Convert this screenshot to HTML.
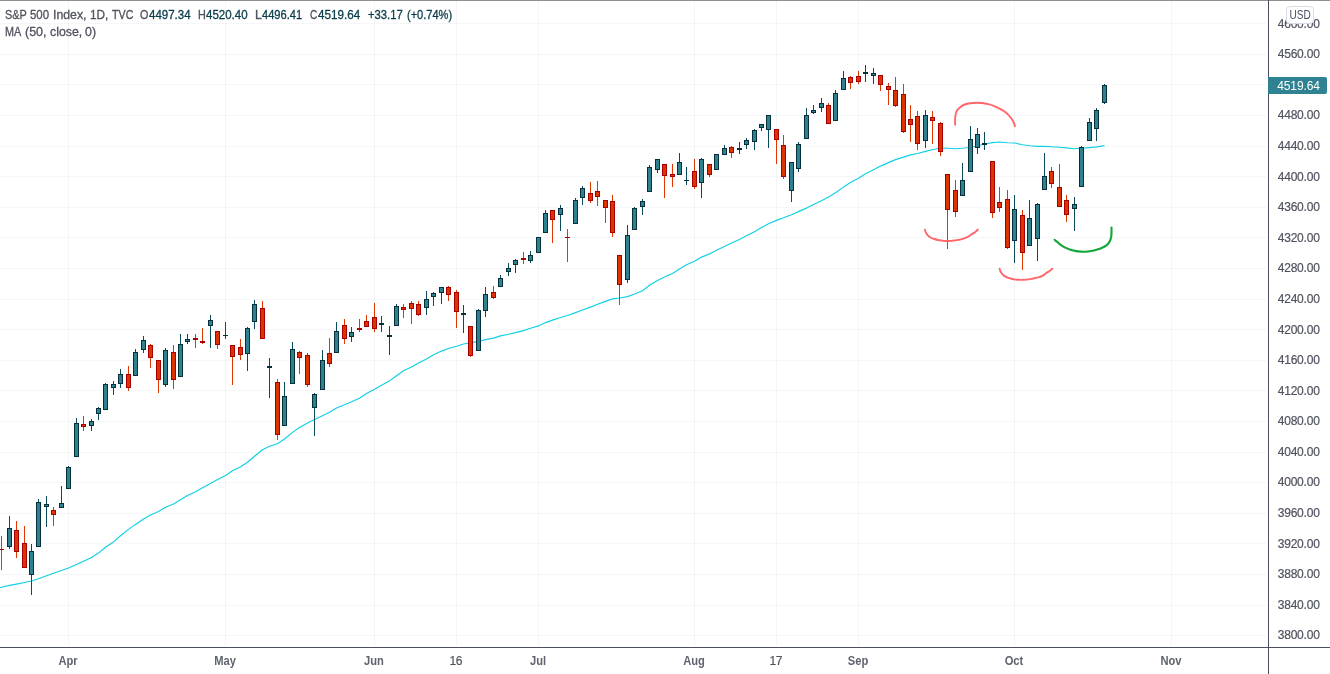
<!DOCTYPE html>
<html><head><meta charset="utf-8"><title>S&amp;P 500 Index, 1D, TVC</title>
<style>
html,body{margin:0;padding:0;background:#fff;}
body{width:1330px;height:674px;overflow:hidden;position:relative;font-family:"Liberation Sans",sans-serif;font-size:12px;color:#50535e;}
#chart{position:absolute;left:0;top:0;}
.pl{position:absolute;left:1269px;width:50.7px;text-align:right;height:17px;line-height:17px;font-size:12px;letter-spacing:-0.2px;white-space:nowrap;-webkit-text-stroke:0.2px currentColor;}
.tl{position:absolute;top:652px;width:60px;text-align:center;height:18px;line-height:18px;font-size:12px;white-space:nowrap;letter-spacing:-0.3px;-webkit-text-stroke:0.2px currentColor;margin-left:-0.7px;}
.tl.b{font-weight:bold;-webkit-text-stroke:0;letter-spacing:0;margin-left:-0.3px;transform:scaleX(0.93);color:#60636f;}
.lg{position:absolute;white-space:nowrap;height:16px;line-height:16px;font-size:12px;transform-origin:0 50%;display:block;-webkit-text-stroke:0.3px currentColor;}
.v{color:#083d4b;}
#usd{position:absolute;left:1286px;top:6px;width:26px;height:16px;border:1px solid #d9dce8;border-radius:4px;background:#fff;text-align:center;line-height:16px;font-size:12px;color:#4a4e61;}
#usd span{display:inline-block;transform:translateX(0.4px) scaleX(0.84);transform-origin:50% 50%;}
#last{position:absolute;left:1268px;top:77px;width:59px;height:17px;background:#2f8292;border-radius:0 2px 2px 0;color:#fff;line-height:19px;overflow:hidden;font-size:12px;text-align:right;box-sizing:border-box;padding-right:7.2px;letter-spacing:-0.12px;}
</style></head><body>
<svg id="chart" width="1330" height="674" viewBox="0 0 1330 674">
<rect x="0" y="0" width="1330" height="674" fill="#ffffff"/>
<g shape-rendering="crispEdges">
<rect x="0" y="635" width="1267" height="1" fill="rgba(50,70,120,0.05)"/><rect x="0" y="605" width="1267" height="1" fill="rgba(50,70,120,0.05)"/><rect x="0" y="574" width="1267" height="1" fill="rgba(50,70,120,0.05)"/><rect x="0" y="543" width="1267" height="1" fill="rgba(50,70,120,0.05)"/><rect x="0" y="513" width="1267" height="1" fill="rgba(50,70,120,0.05)"/><rect x="0" y="482" width="1267" height="1" fill="rgba(50,70,120,0.05)"/><rect x="0" y="452" width="1267" height="1" fill="rgba(50,70,120,0.05)"/><rect x="0" y="421" width="1267" height="1" fill="rgba(50,70,120,0.05)"/><rect x="0" y="390" width="1267" height="1" fill="rgba(50,70,120,0.05)"/><rect x="0" y="360" width="1267" height="1" fill="rgba(50,70,120,0.05)"/><rect x="0" y="329" width="1267" height="1" fill="rgba(50,70,120,0.05)"/><rect x="0" y="299" width="1267" height="1" fill="rgba(50,70,120,0.05)"/><rect x="0" y="268" width="1267" height="1" fill="rgba(50,70,120,0.05)"/><rect x="0" y="237" width="1267" height="1" fill="rgba(50,70,120,0.05)"/><rect x="0" y="207" width="1267" height="1" fill="rgba(50,70,120,0.05)"/><rect x="0" y="176" width="1267" height="1" fill="rgba(50,70,120,0.05)"/><rect x="0" y="146" width="1267" height="1" fill="rgba(50,70,120,0.05)"/><rect x="0" y="115" width="1267" height="1" fill="rgba(50,70,120,0.05)"/><rect x="0" y="84" width="1267" height="1" fill="rgba(50,70,120,0.05)"/><rect x="0" y="54" width="1267" height="1" fill="rgba(50,70,120,0.05)"/><rect x="0" y="23" width="1267" height="1" fill="rgba(50,70,120,0.05)"/><rect x="68" y="1" width="1" height="645" fill="rgba(50,70,120,0.05)"/><rect x="225" y="1" width="1" height="645" fill="rgba(50,70,120,0.05)"/><rect x="374" y="1" width="1" height="645" fill="rgba(50,70,120,0.05)"/><rect x="456" y="1" width="1" height="645" fill="rgba(50,70,120,0.05)"/><rect x="538" y="1" width="1" height="645" fill="rgba(50,70,120,0.05)"/><rect x="694" y="1" width="1" height="645" fill="rgba(50,70,120,0.05)"/><rect x="776" y="1" width="1" height="645" fill="rgba(50,70,120,0.05)"/><rect x="858" y="1" width="1" height="645" fill="rgba(50,70,120,0.05)"/><rect x="1014" y="1" width="1" height="645" fill="rgba(50,70,120,0.05)"/><rect x="1171" y="1" width="1" height="645" fill="rgba(50,70,120,0.05)"/>
</g>
<path d="M-6.0,589.2L1.5,587.3L9.5,585.4L16.5,584.1L24.5,582.5L31.5,581.0L38.5,578.7L46.5,575.7L53.5,573.2L61.5,570.5L68.5,568.0L76.5,564.5L83.5,561.2L91.5,557.5L98.5,553.1L105.5,547.2L113.5,541.9L120.5,535.7L128.5,529.4L135.5,524.4L143.5,519.0L150.5,515.0L158.5,511.5L165.5,507.3L173.5,504.0L180.5,499.7L187.5,495.5L195.5,491.7L202.5,487.8L210.5,483.4L217.5,479.5L225.5,475.5L232.5,470.8L240.5,466.7L247.5,462.3L254.5,456.2L262.5,449.8L269.5,446.3L277.5,443.7L284.5,439.0L292.5,432.4L299.5,427.5L307.5,423.0L314.5,419.5L322.5,415.7L329.5,412.2L336.5,408.0L344.5,404.8L351.5,401.8L359.5,398.2L366.5,393.5L374.5,389.3L381.5,385.2L389.5,380.9L396.5,375.7L403.5,370.8L411.5,366.9L418.5,363.1L426.5,358.9L433.5,354.7L441.5,351.1L448.5,348.5L456.5,346.2L463.5,344.0L470.5,342.9L478.5,341.4L485.5,339.6L493.5,338.1L500.5,335.9L508.5,334.2L515.5,332.6L523.5,330.6L530.5,328.2L538.5,325.9L545.5,322.6L552.5,320.1L560.5,317.5L567.5,315.5L575.5,312.6L582.5,310.0L590.5,307.1L597.5,304.3L605.5,301.4L612.5,298.9L619.5,298.0L627.5,296.6L634.5,294.0L642.5,290.7L649.5,285.3L657.5,280.6L664.5,277.0L672.5,273.4L679.5,269.0L686.5,264.7L694.5,261.2L701.5,257.1L709.5,253.9L716.5,250.2L724.5,246.6L731.5,243.0L739.5,239.4L746.5,235.7L754.5,231.8L761.5,227.6L768.5,223.8L776.5,220.4L783.5,217.7L791.5,214.7L798.5,211.6L806.5,208.1L813.5,204.6L821.5,200.8L828.5,197.0L835.5,192.7L843.5,187.1L850.5,182.6L858.5,178.3L865.5,173.8L873.5,169.7L880.5,166.1L888.5,162.6L895.5,159.6L903.5,157.1L910.5,154.9L917.5,153.5L925.5,151.4L932.5,149.7L940.5,148.0L947.5,148.2L955.5,148.7L962.5,148.3L970.5,147.2L977.5,145.8L984.5,144.0L992.5,142.6L999.5,142.0L1007.5,142.8L1014.5,143.0L1022.5,144.7L1029.5,145.8L1037.5,146.4L1044.5,146.4L1051.5,146.8L1059.5,147.3L1066.5,147.9L1074.5,148.8L1081.5,148.3L1089.5,147.6L1096.5,146.9L1104.5,145.6" fill="none" stroke="#0fd0e4" stroke-width="1.15" stroke-linejoin="round" stroke-linecap="butt"/>
<g shape-rendering="crispEdges">
<rect x="1" y="536" width="1" height="34" fill="#e03600"/><rect x="-1" y="549" width="5" height="1" fill="#a60000"/><rect x="9" y="516" width="1" height="33" fill="#0b4a5b"/><rect x="7" y="528" width="5" height="19" fill="#062f3c"/><rect x="8" y="529" width="3" height="17" fill="#30818f"/><rect x="16" y="521" width="1" height="37" fill="#e03600"/><rect x="14" y="530" width="5" height="22" fill="#a60000"/><rect x="15" y="531" width="3" height="20" fill="#dd3300"/><rect x="24" y="526" width="1" height="42" fill="#e03600"/><rect x="22" y="543" width="5" height="25" fill="#a60000"/><rect x="23" y="544" width="3" height="23" fill="#dd3300"/><rect x="31" y="544" width="1" height="51" fill="#0b4a5b"/><rect x="29" y="551" width="5" height="24" fill="#062f3c"/><rect x="30" y="552" width="3" height="22" fill="#30818f"/><rect x="38" y="499" width="1" height="48" fill="#0b4a5b"/><rect x="36" y="502" width="5" height="45" fill="#062f3c"/><rect x="37" y="503" width="3" height="43" fill="#30818f"/><rect x="46" y="496" width="1" height="31" fill="#0b4a5b"/><rect x="44" y="504" width="5" height="3" fill="#062f3c"/><rect x="45" y="505" width="3" height="1" fill="#30818f"/><rect x="53" y="507" width="1" height="19" fill="#e03600"/><rect x="51" y="510" width="5" height="5" fill="#a60000"/><rect x="52" y="511" width="3" height="3" fill="#dd3300"/><rect x="61" y="486" width="1" height="22" fill="#0b4a5b"/><rect x="59" y="503" width="5" height="5" fill="#062f3c"/><rect x="60" y="504" width="3" height="3" fill="#30818f"/><rect x="68" y="466" width="1" height="23" fill="#0b4a5b"/><rect x="66" y="467" width="5" height="22" fill="#062f3c"/><rect x="67" y="468" width="3" height="20" fill="#30818f"/><rect x="76" y="418" width="1" height="39" fill="#0b4a5b"/><rect x="74" y="423" width="5" height="34" fill="#062f3c"/><rect x="75" y="424" width="3" height="32" fill="#30818f"/><rect x="83" y="416" width="1" height="15" fill="#e03600"/><rect x="81" y="424" width="5" height="3" fill="#a60000"/><rect x="82" y="425" width="3" height="1" fill="#dd3300"/><rect x="91" y="419" width="1" height="12" fill="#0b4a5b"/><rect x="89" y="421" width="5" height="5" fill="#062f3c"/><rect x="90" y="422" width="3" height="3" fill="#30818f"/><rect x="98" y="407" width="1" height="13" fill="#0b4a5b"/><rect x="96" y="408" width="5" height="6" fill="#062f3c"/><rect x="97" y="409" width="3" height="4" fill="#30818f"/><rect x="105" y="383" width="1" height="27" fill="#0b4a5b"/><rect x="103" y="384" width="5" height="26" fill="#062f3c"/><rect x="104" y="385" width="3" height="24" fill="#30818f"/><rect x="113" y="381" width="1" height="14" fill="#0b4a5b"/><rect x="111" y="384" width="5" height="4" fill="#062f3c"/><rect x="112" y="385" width="3" height="2" fill="#30818f"/><rect x="120" y="369" width="1" height="19" fill="#0b4a5b"/><rect x="118" y="374" width="5" height="10" fill="#062f3c"/><rect x="119" y="375" width="3" height="8" fill="#30818f"/><rect x="128" y="366" width="1" height="25" fill="#e03600"/><rect x="126" y="374" width="5" height="14" fill="#a60000"/><rect x="127" y="375" width="3" height="12" fill="#dd3300"/><rect x="135" y="349" width="1" height="27" fill="#0b4a5b"/><rect x="133" y="352" width="5" height="24" fill="#062f3c"/><rect x="134" y="353" width="3" height="22" fill="#30818f"/><rect x="143" y="336" width="1" height="17" fill="#0b4a5b"/><rect x="141" y="340" width="5" height="10" fill="#062f3c"/><rect x="142" y="341" width="3" height="8" fill="#30818f"/><rect x="150" y="344" width="1" height="24" fill="#e03600"/><rect x="148" y="345" width="5" height="13" fill="#a60000"/><rect x="149" y="346" width="3" height="11" fill="#dd3300"/><rect x="158" y="360" width="1" height="33" fill="#e03600"/><rect x="156" y="360" width="5" height="20" fill="#a60000"/><rect x="157" y="361" width="3" height="18" fill="#dd3300"/><rect x="165" y="348" width="1" height="39" fill="#0b4a5b"/><rect x="163" y="350" width="5" height="35" fill="#062f3c"/><rect x="164" y="351" width="3" height="33" fill="#30818f"/><rect x="173" y="345" width="1" height="44" fill="#e03600"/><rect x="171" y="352" width="5" height="28" fill="#a60000"/><rect x="172" y="353" width="3" height="26" fill="#dd3300"/><rect x="180" y="334" width="1" height="43" fill="#0b4a5b"/><rect x="178" y="344" width="5" height="33" fill="#062f3c"/><rect x="179" y="345" width="3" height="31" fill="#30818f"/><rect x="187" y="334" width="1" height="10" fill="#0b4a5b"/><rect x="185" y="339" width="5" height="3" fill="#062f3c"/><rect x="186" y="340" width="3" height="1" fill="#30818f"/><rect x="195" y="334" width="1" height="14" fill="#e03600"/><rect x="193" y="338" width="5" height="2" fill="#a60000"/><rect x="202" y="328" width="1" height="16" fill="#e03600"/><rect x="200" y="341" width="5" height="2" fill="#a60000"/><rect x="210" y="315" width="1" height="33" fill="#0b4a5b"/><rect x="208" y="320" width="5" height="6" fill="#062f3c"/><rect x="209" y="321" width="3" height="4" fill="#30818f"/><rect x="217" y="331" width="1" height="18" fill="#e03600"/><rect x="215" y="331" width="5" height="14" fill="#a60000"/><rect x="216" y="332" width="3" height="12" fill="#dd3300"/><rect x="225" y="322" width="1" height="17" fill="#0b4a5b"/><rect x="223" y="335" width="5" height="1" fill="#062f3c"/><rect x="232" y="345" width="1" height="40" fill="#e03600"/><rect x="230" y="345" width="5" height="12" fill="#a60000"/><rect x="231" y="346" width="3" height="10" fill="#dd3300"/><rect x="240" y="339" width="1" height="21" fill="#e03600"/><rect x="238" y="347" width="5" height="8" fill="#a60000"/><rect x="239" y="348" width="3" height="6" fill="#dd3300"/><rect x="247" y="327" width="1" height="44" fill="#0b4a5b"/><rect x="245" y="328" width="5" height="26" fill="#062f3c"/><rect x="246" y="329" width="3" height="24" fill="#30818f"/><rect x="254" y="300" width="1" height="29" fill="#0b4a5b"/><rect x="252" y="304" width="5" height="18" fill="#062f3c"/><rect x="253" y="305" width="3" height="16" fill="#30818f"/><rect x="262" y="301" width="1" height="38" fill="#e03600"/><rect x="260" y="308" width="5" height="31" fill="#a60000"/><rect x="261" y="309" width="3" height="29" fill="#dd3300"/><rect x="269" y="358" width="1" height="40" fill="#0b4a5b"/><rect x="267" y="366" width="5" height="2" fill="#062f3c"/><rect x="277" y="379" width="1" height="61" fill="#e03600"/><rect x="275" y="382" width="5" height="53" fill="#a60000"/><rect x="276" y="383" width="3" height="51" fill="#dd3300"/><rect x="284" y="382" width="1" height="44" fill="#0b4a5b"/><rect x="282" y="396" width="5" height="30" fill="#062f3c"/><rect x="283" y="397" width="3" height="28" fill="#30818f"/><rect x="292" y="342" width="1" height="42" fill="#0b4a5b"/><rect x="290" y="349" width="5" height="35" fill="#062f3c"/><rect x="291" y="350" width="3" height="33" fill="#30818f"/><rect x="299" y="351" width="1" height="23" fill="#e03600"/><rect x="297" y="352" width="5" height="6" fill="#a60000"/><rect x="298" y="353" width="3" height="4" fill="#dd3300"/><rect x="307" y="353" width="1" height="34" fill="#e03600"/><rect x="305" y="355" width="5" height="30" fill="#a60000"/><rect x="306" y="356" width="3" height="28" fill="#dd3300"/><rect x="314" y="393" width="1" height="43" fill="#0b4a5b"/><rect x="312" y="394" width="5" height="14" fill="#062f3c"/><rect x="313" y="395" width="3" height="12" fill="#30818f"/><rect x="322" y="350" width="1" height="40" fill="#0b4a5b"/><rect x="320" y="360" width="5" height="30" fill="#062f3c"/><rect x="321" y="361" width="3" height="28" fill="#30818f"/><rect x="329" y="338" width="1" height="29" fill="#e03600"/><rect x="327" y="353" width="5" height="11" fill="#a60000"/><rect x="328" y="354" width="3" height="9" fill="#dd3300"/><rect x="336" y="322" width="1" height="31" fill="#0b4a5b"/><rect x="334" y="331" width="5" height="22" fill="#062f3c"/><rect x="335" y="332" width="3" height="20" fill="#30818f"/><rect x="344" y="319" width="1" height="25" fill="#e03600"/><rect x="342" y="325" width="5" height="14" fill="#a60000"/><rect x="343" y="326" width="3" height="12" fill="#dd3300"/><rect x="351" y="327" width="1" height="15" fill="#0b4a5b"/><rect x="349" y="332" width="5" height="5" fill="#062f3c"/><rect x="350" y="333" width="3" height="3" fill="#30818f"/><rect x="359" y="319" width="1" height="13" fill="#e03600"/><rect x="357" y="328" width="5" height="2" fill="#a60000"/><rect x="366" y="315" width="1" height="12" fill="#e03600"/><rect x="364" y="321" width="5" height="6" fill="#a60000"/><rect x="365" y="322" width="3" height="4" fill="#dd3300"/><rect x="374" y="303" width="1" height="29" fill="#e03600"/><rect x="372" y="317" width="5" height="12" fill="#a60000"/><rect x="373" y="318" width="3" height="10" fill="#dd3300"/><rect x="381" y="316" width="1" height="16" fill="#0b4a5b"/><rect x="379" y="323" width="5" height="2" fill="#062f3c"/><rect x="389" y="326" width="1" height="29" fill="#0b4a5b"/><rect x="387" y="335" width="5" height="2" fill="#062f3c"/><rect x="396" y="304" width="1" height="22" fill="#0b4a5b"/><rect x="394" y="306" width="5" height="20" fill="#062f3c"/><rect x="395" y="307" width="3" height="18" fill="#30818f"/><rect x="403" y="304" width="1" height="14" fill="#e03600"/><rect x="401" y="307" width="5" height="3" fill="#a60000"/><rect x="402" y="308" width="3" height="1" fill="#dd3300"/><rect x="411" y="301" width="1" height="23" fill="#e03600"/><rect x="409" y="303" width="5" height="6" fill="#a60000"/><rect x="410" y="304" width="3" height="4" fill="#dd3300"/><rect x="418" y="301" width="1" height="15" fill="#e03600"/><rect x="416" y="304" width="5" height="11" fill="#a60000"/><rect x="417" y="305" width="3" height="9" fill="#dd3300"/><rect x="426" y="291" width="1" height="24" fill="#0b4a5b"/><rect x="424" y="299" width="5" height="9" fill="#062f3c"/><rect x="425" y="300" width="3" height="7" fill="#30818f"/><rect x="433" y="292" width="1" height="14" fill="#0b4a5b"/><rect x="431" y="293" width="5" height="4" fill="#062f3c"/><rect x="432" y="294" width="3" height="2" fill="#30818f"/><rect x="441" y="287" width="1" height="17" fill="#0b4a5b"/><rect x="439" y="287" width="5" height="6" fill="#062f3c"/><rect x="440" y="288" width="3" height="4" fill="#30818f"/><rect x="448" y="286" width="1" height="15" fill="#e03600"/><rect x="446" y="287" width="5" height="8" fill="#a60000"/><rect x="447" y="288" width="3" height="6" fill="#dd3300"/><rect x="456" y="290" width="1" height="38" fill="#e03600"/><rect x="454" y="292" width="5" height="20" fill="#a60000"/><rect x="455" y="293" width="3" height="18" fill="#dd3300"/><rect x="463" y="305" width="1" height="28" fill="#0b4a5b"/><rect x="461" y="313" width="5" height="2" fill="#062f3c"/><rect x="470" y="326" width="1" height="31" fill="#e03600"/><rect x="468" y="326" width="5" height="30" fill="#a60000"/><rect x="469" y="327" width="3" height="28" fill="#dd3300"/><rect x="478" y="309" width="1" height="42" fill="#0b4a5b"/><rect x="476" y="310" width="5" height="41" fill="#062f3c"/><rect x="477" y="311" width="3" height="39" fill="#30818f"/><rect x="485" y="287" width="1" height="30" fill="#0b4a5b"/><rect x="483" y="294" width="5" height="17" fill="#062f3c"/><rect x="484" y="295" width="3" height="15" fill="#30818f"/><rect x="493" y="286" width="1" height="13" fill="#e03600"/><rect x="491" y="292" width="5" height="6" fill="#a60000"/><rect x="492" y="293" width="3" height="4" fill="#dd3300"/><rect x="500" y="275" width="1" height="12" fill="#0b4a5b"/><rect x="498" y="278" width="5" height="9" fill="#062f3c"/><rect x="499" y="279" width="3" height="7" fill="#30818f"/><rect x="508" y="263" width="1" height="13" fill="#0b4a5b"/><rect x="506" y="268" width="5" height="4" fill="#062f3c"/><rect x="507" y="269" width="3" height="2" fill="#30818f"/><rect x="515" y="259" width="1" height="14" fill="#0b4a5b"/><rect x="513" y="260" width="5" height="5" fill="#062f3c"/><rect x="514" y="261" width="3" height="3" fill="#30818f"/><rect x="523" y="252" width="1" height="12" fill="#e03600"/><rect x="521" y="258" width="5" height="2" fill="#a60000"/><rect x="530" y="251" width="1" height="12" fill="#0b4a5b"/><rect x="528" y="255" width="5" height="6" fill="#062f3c"/><rect x="529" y="256" width="3" height="4" fill="#30818f"/><rect x="538" y="237" width="1" height="16" fill="#0b4a5b"/><rect x="536" y="237" width="5" height="16" fill="#062f3c"/><rect x="537" y="238" width="3" height="14" fill="#30818f"/><rect x="545" y="210" width="1" height="23" fill="#0b4a5b"/><rect x="543" y="213" width="5" height="20" fill="#062f3c"/><rect x="544" y="214" width="3" height="18" fill="#30818f"/><rect x="552" y="210" width="1" height="33" fill="#e03600"/><rect x="550" y="210" width="5" height="10" fill="#a60000"/><rect x="551" y="211" width="3" height="8" fill="#dd3300"/><rect x="560" y="205" width="1" height="26" fill="#0b4a5b"/><rect x="558" y="208" width="5" height="7" fill="#062f3c"/><rect x="559" y="209" width="3" height="5" fill="#30818f"/><rect x="567" y="229" width="1" height="33" fill="#e03600"/><rect x="565" y="237" width="5" height="1" fill="#a60000"/><rect x="575" y="198" width="1" height="26" fill="#0b4a5b"/><rect x="573" y="200" width="5" height="24" fill="#062f3c"/><rect x="574" y="201" width="3" height="22" fill="#30818f"/><rect x="582" y="186" width="1" height="19" fill="#0b4a5b"/><rect x="580" y="188" width="5" height="10" fill="#062f3c"/><rect x="581" y="189" width="3" height="8" fill="#30818f"/><rect x="590" y="182" width="1" height="21" fill="#e03600"/><rect x="588" y="193" width="5" height="8" fill="#a60000"/><rect x="589" y="194" width="3" height="6" fill="#dd3300"/><rect x="597" y="181" width="1" height="25" fill="#e03600"/><rect x="595" y="191" width="5" height="6" fill="#a60000"/><rect x="596" y="192" width="3" height="4" fill="#dd3300"/><rect x="605" y="200" width="1" height="23" fill="#e03600"/><rect x="603" y="200" width="5" height="8" fill="#a60000"/><rect x="604" y="201" width="3" height="6" fill="#dd3300"/><rect x="612" y="195" width="1" height="42" fill="#e03600"/><rect x="610" y="201" width="5" height="32" fill="#a60000"/><rect x="611" y="202" width="3" height="30" fill="#dd3300"/><rect x="619" y="255" width="1" height="50" fill="#e03600"/><rect x="617" y="255" width="5" height="30" fill="#a60000"/><rect x="618" y="256" width="3" height="28" fill="#dd3300"/><rect x="627" y="225" width="1" height="58" fill="#0b4a5b"/><rect x="625" y="235" width="5" height="45" fill="#062f3c"/><rect x="626" y="236" width="3" height="43" fill="#30818f"/><rect x="634" y="207" width="1" height="23" fill="#0b4a5b"/><rect x="632" y="208" width="5" height="22" fill="#062f3c"/><rect x="633" y="209" width="3" height="20" fill="#30818f"/><rect x="642" y="199" width="1" height="16" fill="#0b4a5b"/><rect x="640" y="201" width="5" height="6" fill="#062f3c"/><rect x="641" y="202" width="3" height="4" fill="#30818f"/><rect x="649" y="165" width="1" height="27" fill="#0b4a5b"/><rect x="647" y="167" width="5" height="25" fill="#062f3c"/><rect x="648" y="168" width="3" height="23" fill="#30818f"/><rect x="657" y="159" width="1" height="14" fill="#0b4a5b"/><rect x="655" y="159" width="5" height="11" fill="#062f3c"/><rect x="656" y="160" width="3" height="9" fill="#30818f"/><rect x="664" y="164" width="1" height="34" fill="#e03600"/><rect x="662" y="164" width="5" height="12" fill="#a60000"/><rect x="663" y="165" width="3" height="10" fill="#dd3300"/><rect x="672" y="164" width="1" height="23" fill="#e03600"/><rect x="670" y="174" width="5" height="3" fill="#a60000"/><rect x="671" y="175" width="3" height="1" fill="#dd3300"/><rect x="679" y="153" width="1" height="22" fill="#0b4a5b"/><rect x="677" y="162" width="5" height="13" fill="#062f3c"/><rect x="678" y="163" width="3" height="11" fill="#30818f"/><rect x="686" y="167" width="1" height="18" fill="#0b4a5b"/><rect x="684" y="180" width="5" height="1" fill="#062f3c"/><rect x="694" y="159" width="1" height="30" fill="#e03600"/><rect x="692" y="171" width="5" height="16" fill="#a60000"/><rect x="693" y="172" width="3" height="14" fill="#dd3300"/><rect x="701" y="158" width="1" height="40" fill="#0b4a5b"/><rect x="699" y="159" width="5" height="24" fill="#062f3c"/><rect x="700" y="160" width="3" height="22" fill="#30818f"/><rect x="709" y="164" width="1" height="13" fill="#e03600"/><rect x="707" y="164" width="5" height="11" fill="#a60000"/><rect x="708" y="165" width="3" height="9" fill="#dd3300"/><rect x="716" y="154" width="1" height="16" fill="#0b4a5b"/><rect x="714" y="154" width="5" height="16" fill="#062f3c"/><rect x="715" y="155" width="3" height="14" fill="#30818f"/><rect x="724" y="145" width="1" height="10" fill="#0b4a5b"/><rect x="722" y="148" width="5" height="7" fill="#062f3c"/><rect x="723" y="149" width="3" height="5" fill="#30818f"/><rect x="731" y="146" width="1" height="12" fill="#e03600"/><rect x="729" y="147" width="5" height="6" fill="#a60000"/><rect x="730" y="148" width="3" height="4" fill="#dd3300"/><rect x="739" y="142" width="1" height="12" fill="#0b4a5b"/><rect x="737" y="148" width="5" height="2" fill="#062f3c"/><rect x="746" y="138" width="1" height="11" fill="#0b4a5b"/><rect x="744" y="140" width="5" height="5" fill="#062f3c"/><rect x="745" y="141" width="3" height="3" fill="#30818f"/><rect x="754" y="129" width="1" height="21" fill="#0b4a5b"/><rect x="752" y="130" width="5" height="12" fill="#062f3c"/><rect x="753" y="131" width="3" height="10" fill="#30818f"/><rect x="761" y="124" width="1" height="7" fill="#0b4a5b"/><rect x="759" y="124" width="5" height="4" fill="#062f3c"/><rect x="760" y="125" width="3" height="2" fill="#30818f"/><rect x="768" y="115" width="1" height="33" fill="#0b4a5b"/><rect x="766" y="115" width="5" height="15" fill="#062f3c"/><rect x="767" y="116" width="3" height="13" fill="#30818f"/><rect x="776" y="129" width="1" height="35" fill="#e03600"/><rect x="774" y="129" width="5" height="11" fill="#a60000"/><rect x="775" y="130" width="3" height="9" fill="#dd3300"/><rect x="783" y="135" width="1" height="44" fill="#e03600"/><rect x="781" y="145" width="5" height="32" fill="#a60000"/><rect x="782" y="146" width="3" height="30" fill="#dd3300"/><rect x="791" y="162" width="1" height="40" fill="#0b4a5b"/><rect x="789" y="162" width="5" height="29" fill="#062f3c"/><rect x="790" y="163" width="3" height="27" fill="#30818f"/><rect x="798" y="142" width="1" height="30" fill="#0b4a5b"/><rect x="796" y="144" width="5" height="25" fill="#062f3c"/><rect x="797" y="145" width="3" height="23" fill="#30818f"/><rect x="806" y="108" width="1" height="31" fill="#0b4a5b"/><rect x="804" y="115" width="5" height="24" fill="#062f3c"/><rect x="805" y="116" width="3" height="22" fill="#30818f"/><rect x="813" y="105" width="1" height="9" fill="#0b4a5b"/><rect x="811" y="110" width="5" height="3" fill="#062f3c"/><rect x="812" y="111" width="3" height="1" fill="#30818f"/><rect x="821" y="98" width="1" height="14" fill="#0b4a5b"/><rect x="819" y="103" width="5" height="5" fill="#062f3c"/><rect x="820" y="104" width="3" height="3" fill="#30818f"/><rect x="828" y="103" width="1" height="21" fill="#e03600"/><rect x="826" y="105" width="5" height="19" fill="#a60000"/><rect x="827" y="106" width="3" height="17" fill="#dd3300"/><rect x="835" y="90" width="1" height="31" fill="#0b4a5b"/><rect x="833" y="93" width="5" height="28" fill="#062f3c"/><rect x="834" y="94" width="3" height="26" fill="#30818f"/><rect x="843" y="71" width="1" height="19" fill="#0b4a5b"/><rect x="841" y="78" width="5" height="12" fill="#062f3c"/><rect x="842" y="79" width="3" height="10" fill="#30818f"/><rect x="850" y="76" width="1" height="13" fill="#e03600"/><rect x="848" y="77" width="5" height="6" fill="#a60000"/><rect x="849" y="78" width="3" height="4" fill="#dd3300"/><rect x="858" y="71" width="1" height="13" fill="#e03600"/><rect x="856" y="76" width="5" height="6" fill="#a60000"/><rect x="857" y="77" width="3" height="4" fill="#dd3300"/><rect x="865" y="65" width="1" height="17" fill="#0b4a5b"/><rect x="863" y="72" width="5" height="2" fill="#062f3c"/><rect x="873" y="68" width="1" height="16" fill="#0b4a5b"/><rect x="871" y="73" width="5" height="3" fill="#062f3c"/><rect x="872" y="74" width="3" height="1" fill="#30818f"/><rect x="880" y="75" width="1" height="16" fill="#e03600"/><rect x="878" y="75" width="5" height="10" fill="#a60000"/><rect x="879" y="76" width="3" height="8" fill="#dd3300"/><rect x="888" y="83" width="1" height="22" fill="#e03600"/><rect x="886" y="86" width="5" height="4" fill="#a60000"/><rect x="887" y="87" width="3" height="2" fill="#dd3300"/><rect x="895" y="77" width="1" height="30" fill="#e03600"/><rect x="893" y="90" width="5" height="16" fill="#a60000"/><rect x="894" y="91" width="3" height="14" fill="#dd3300"/><rect x="903" y="84" width="1" height="49" fill="#e03600"/><rect x="901" y="94" width="5" height="38" fill="#a60000"/><rect x="902" y="95" width="3" height="36" fill="#dd3300"/><rect x="910" y="105" width="1" height="37" fill="#e03600"/><rect x="908" y="119" width="5" height="6" fill="#a60000"/><rect x="909" y="120" width="3" height="4" fill="#dd3300"/><rect x="917" y="111" width="1" height="39" fill="#e03600"/><rect x="915" y="116" width="5" height="28" fill="#a60000"/><rect x="916" y="117" width="3" height="26" fill="#dd3300"/><rect x="925" y="110" width="1" height="38" fill="#0b4a5b"/><rect x="923" y="115" width="5" height="26" fill="#062f3c"/><rect x="924" y="116" width="3" height="24" fill="#30818f"/><rect x="932" y="111" width="1" height="33" fill="#e03600"/><rect x="930" y="117" width="5" height="4" fill="#a60000"/><rect x="931" y="118" width="3" height="2" fill="#dd3300"/><rect x="940" y="122" width="1" height="34" fill="#e03600"/><rect x="938" y="123" width="5" height="29" fill="#a60000"/><rect x="939" y="124" width="3" height="27" fill="#dd3300"/><rect x="947" y="174" width="1" height="75" fill="#e03600"/><rect x="945" y="174" width="5" height="36" fill="#a60000"/><rect x="946" y="175" width="3" height="34" fill="#dd3300"/><rect x="955" y="180" width="1" height="37" fill="#e03600"/><rect x="953" y="190" width="5" height="22" fill="#a60000"/><rect x="954" y="191" width="3" height="20" fill="#dd3300"/><rect x="962" y="163" width="1" height="33" fill="#0b4a5b"/><rect x="960" y="180" width="5" height="16" fill="#062f3c"/><rect x="961" y="181" width="3" height="14" fill="#30818f"/><rect x="970" y="126" width="1" height="46" fill="#0b4a5b"/><rect x="968" y="139" width="5" height="33" fill="#062f3c"/><rect x="969" y="140" width="3" height="31" fill="#30818f"/><rect x="977" y="128" width="1" height="26" fill="#0b4a5b"/><rect x="975" y="134" width="5" height="14" fill="#062f3c"/><rect x="976" y="135" width="3" height="12" fill="#30818f"/><rect x="984" y="132" width="1" height="18" fill="#0b4a5b"/><rect x="982" y="143" width="5" height="2" fill="#062f3c"/><rect x="992" y="161" width="1" height="57" fill="#e03600"/><rect x="990" y="161" width="5" height="52" fill="#a60000"/><rect x="991" y="162" width="3" height="50" fill="#dd3300"/><rect x="999" y="187" width="1" height="25" fill="#e03600"/><rect x="997" y="202" width="5" height="6" fill="#a60000"/><rect x="998" y="203" width="3" height="4" fill="#dd3300"/><rect x="1007" y="190" width="1" height="59" fill="#e03600"/><rect x="1005" y="199" width="5" height="49" fill="#a60000"/><rect x="1006" y="200" width="3" height="47" fill="#dd3300"/><rect x="1014" y="195" width="1" height="68" fill="#0b4a5b"/><rect x="1012" y="209" width="5" height="32" fill="#062f3c"/><rect x="1013" y="210" width="3" height="30" fill="#30818f"/><rect x="1022" y="210" width="1" height="60" fill="#e03600"/><rect x="1020" y="215" width="5" height="38" fill="#a60000"/><rect x="1021" y="216" width="3" height="36" fill="#dd3300"/><rect x="1029" y="200" width="1" height="46" fill="#0b4a5b"/><rect x="1027" y="218" width="5" height="28" fill="#062f3c"/><rect x="1028" y="219" width="3" height="26" fill="#30818f"/><rect x="1037" y="203" width="1" height="58" fill="#0b4a5b"/><rect x="1035" y="204" width="5" height="35" fill="#062f3c"/><rect x="1036" y="205" width="3" height="33" fill="#30818f"/><rect x="1044" y="153" width="1" height="37" fill="#0b4a5b"/><rect x="1042" y="176" width="5" height="14" fill="#062f3c"/><rect x="1043" y="177" width="3" height="12" fill="#30818f"/><rect x="1051" y="167" width="1" height="21" fill="#e03600"/><rect x="1049" y="171" width="5" height="13" fill="#a60000"/><rect x="1050" y="172" width="3" height="11" fill="#dd3300"/><rect x="1059" y="164" width="1" height="43" fill="#e03600"/><rect x="1057" y="187" width="5" height="20" fill="#a60000"/><rect x="1058" y="188" width="3" height="18" fill="#dd3300"/><rect x="1066" y="195" width="1" height="27" fill="#e03600"/><rect x="1064" y="200" width="5" height="15" fill="#a60000"/><rect x="1065" y="201" width="3" height="13" fill="#dd3300"/><rect x="1074" y="197" width="1" height="34" fill="#0b4a5b"/><rect x="1072" y="204" width="5" height="5" fill="#062f3c"/><rect x="1073" y="205" width="3" height="3" fill="#30818f"/><rect x="1081" y="146" width="1" height="41" fill="#0b4a5b"/><rect x="1079" y="147" width="5" height="40" fill="#062f3c"/><rect x="1080" y="148" width="3" height="38" fill="#30818f"/><rect x="1089" y="118" width="1" height="23" fill="#0b4a5b"/><rect x="1087" y="122" width="5" height="19" fill="#062f3c"/><rect x="1088" y="123" width="3" height="17" fill="#30818f"/><rect x="1096" y="108" width="1" height="33" fill="#0b4a5b"/><rect x="1094" y="110" width="5" height="19" fill="#062f3c"/><rect x="1095" y="111" width="3" height="17" fill="#30818f"/><rect x="1104" y="84" width="1" height="20" fill="#0b4a5b"/><rect x="1102" y="85" width="5" height="18" fill="#062f3c"/><rect x="1103" y="86" width="3" height="16" fill="#30818f"/>
</g>
<path d="M955.1,124.8C955.1,124.0 955.1,121.8 955.1,120.3C955.1,118.8 955.1,117.5 955.4,116.0C955.6,114.6 956.0,112.9 956.4,111.8C956.8,110.7 957.2,110.1 957.9,109.3C958.6,108.5 959.5,107.7 960.6,106.9C961.8,106.1 963.2,105.1 964.8,104.5C966.4,103.9 968.4,103.5 970.3,103.2C972.2,102.9 974.3,102.8 976.3,102.8C978.3,102.8 980.3,102.8 982.3,103.0C984.3,103.2 986.3,103.7 988.3,104.2C990.3,104.7 992.5,105.4 994.3,106.1C996.1,106.8 997.5,107.5 999.1,108.3C1000.7,109.1 1002.5,110.1 1003.9,111.1C1005.3,112.1 1006.5,113.1 1007.6,114.2C1008.7,115.3 1009.7,116.4 1010.6,117.5C1011.5,118.6 1012.4,120.0 1013.0,121.0C1013.6,122.0 1013.9,122.7 1014.2,123.6C1014.5,124.5 1014.8,125.8 1014.9,126.3" fill="none" stroke="#ff666a" stroke-width="1.9" stroke-linecap="round" stroke-linejoin="round"/><path d="M924.9,229.7C925.0,230.1 925.3,231.5 925.8,232.4C926.2,233.3 926.9,234.4 927.6,235.2C928.3,236.0 929.0,236.7 930.0,237.3C931.0,237.9 932.3,238.4 933.6,238.8C934.9,239.2 936.4,239.7 937.9,240.0C939.4,240.3 941.1,240.5 942.7,240.7C944.3,240.9 945.9,241.0 947.5,241.0C949.1,241.0 950.7,240.8 952.3,240.7C953.9,240.5 955.5,240.4 957.1,240.1C958.7,239.8 960.4,239.5 961.9,239.1C963.4,238.7 964.9,238.2 966.1,237.7C967.3,237.2 968.1,236.7 969.1,236.1C970.1,235.5 971.2,234.5 972.1,233.9C973.0,233.3 973.8,233.2 974.5,232.7C975.2,232.2 975.8,231.4 976.4,230.9C977.0,230.4 977.6,229.7 977.9,229.4" fill="none" stroke="#ff666a" stroke-width="1.9" stroke-linecap="round" stroke-linejoin="round"/><path d="M999.6,268.8C999.8,269.2 1000.0,270.6 1000.5,271.5C1001.0,272.4 1001.5,273.4 1002.3,274.2C1003.0,275.0 1003.9,275.7 1005.0,276.4C1006.1,277.1 1007.7,277.7 1009.2,278.2C1010.7,278.7 1012.5,279.1 1014.1,279.4C1015.7,279.7 1017.3,279.7 1018.9,279.8C1020.5,279.9 1022.1,279.9 1023.7,279.8C1025.3,279.7 1026.9,279.6 1028.5,279.4C1030.1,279.2 1031.7,278.8 1033.3,278.5C1034.9,278.2 1036.6,277.8 1038.1,277.4C1039.6,276.9 1041.0,276.5 1042.3,275.8C1043.6,275.1 1044.8,274.1 1045.9,273.3C1047.1,272.5 1048.1,271.9 1049.2,271.2C1050.3,270.4 1051.8,269.2 1052.3,268.8" fill="none" stroke="#ff666a" stroke-width="1.9" stroke-linecap="round" stroke-linejoin="round"/><path d="M1054.6,239.8C1055.0,240.2 1056.1,240.9 1057.0,241.7C1057.9,242.4 1058.8,243.5 1060.0,244.4C1061.2,245.3 1062.7,246.3 1064.2,247.1C1065.7,247.9 1067.6,248.6 1069.1,249.2C1070.6,249.8 1071.8,250.2 1073.3,250.6C1074.8,251.0 1076.5,251.2 1078.1,251.4C1079.7,251.6 1081.3,251.8 1082.9,251.8C1084.5,251.8 1086.1,251.7 1087.7,251.5C1089.3,251.3 1090.9,251.0 1092.5,250.7C1094.1,250.4 1095.7,250.0 1097.3,249.5C1098.9,249.0 1100.6,248.4 1102.1,247.7C1103.6,247.0 1105.2,246.2 1106.4,245.3C1107.6,244.4 1108.4,243.3 1109.1,242.3C1109.8,241.3 1110.2,240.2 1110.6,239.2C1111.0,238.2 1111.1,237.4 1111.3,236.2C1111.5,235.0 1111.5,233.4 1111.5,232.0C1111.5,230.6 1111.5,228.2 1111.5,227.5" fill="none" stroke="#10a638" stroke-width="2.1" stroke-linecap="round" stroke-linejoin="round"/>
<g shape-rendering="crispEdges">
<rect x="0" y="0" width="1330" height="1" fill="#8e8e93"/>
<rect x="1268" y="0" width="1" height="674" fill="#4a4e61"/>
<rect x="0" y="647" width="1330" height="1" fill="#4a4e61"/>
</g>
</svg>
<div class="pl" style="top:627px">3800.00</div><div class="pl" style="top:597px">3840.00</div><div class="pl" style="top:566px">3880.00</div><div class="pl" style="top:536px">3920.00</div><div class="pl" style="top:505px">3960.00</div><div class="pl" style="top:474px">4000.00</div><div class="pl" style="top:444px">4040.00</div><div class="pl" style="top:413px">4080.00</div><div class="pl" style="top:383px">4120.00</div><div class="pl" style="top:352px">4160.00</div><div class="pl" style="top:322px">4200.00</div><div class="pl" style="top:291px">4240.00</div><div class="pl" style="top:260px">4280.00</div><div class="pl" style="top:230px">4320.00</div><div class="pl" style="top:199px">4360.00</div><div class="pl" style="top:169px">4400.00</div><div class="pl" style="top:138px">4440.00</div><div class="pl" style="top:107px">4480.00</div><div class="pl" style="top:77px">4520.00</div><div class="pl" style="top:46px">4560.00</div><div class="pl" style="top:16px">4600.00</div><div class="tl b" style="left:38.5px">Apr</div><div class="tl b" style="left:195.5px">May</div><div class="tl b" style="left:344.5px">Jun</div><div class="tl" style="left:426.5px">16</div><div class="tl b" style="left:508.5px">Jul</div><div class="tl b" style="left:664.5px">Aug</div><div class="tl" style="left:746.5px">17</div><div class="tl b" style="left:828.5px">Sep</div><div class="tl b" style="left:984.5px">Oct</div><div class="tl b" style="left:1141.5px">Nov</div>
<div id="usd"><span>USD</span></div>
<div id="last">4519.64</div>
<span class="lg" style="left:5.45px;top:7px;transform:scaleX(0.9043)">S&amp;P</span>
<span class="lg" style="left:30.42px;top:7px;transform:scaleX(0.9526)">500</span>
<span class="lg" style="left:52.78px;top:7px;transform:scaleX(1.0244)">Index,</span>
<span class="lg" style="left:90.22px;top:7px;transform:scaleX(0.9818)">1D,</span>
<span class="lg" style="left:111.68px;top:7px;transform:scaleX(0.8946)">TVC</span>
<span class="lg" style="left:140.15px;top:7px;transform:scaleX(0.8970)">O</span>
<span class="lg v" style="left:148.76px;top:7px;transform:scaleX(0.9591)">4497.34</span>
<span class="lg" style="left:197.50px;top:7px;transform:scaleX(0.9037)">H</span>
<span class="lg v" style="left:205.56px;top:7px;transform:scaleX(0.9591)">4520.40</span>
<span class="lg" style="left:254.57px;top:7px;transform:scaleX(1.0286)">L</span>
<span class="lg v" style="left:262.07px;top:7px;transform:scaleX(0.9271)">4496.41</span>
<span class="lg" style="left:310.48px;top:7px;transform:scaleX(0.8400)">C</span>
<span class="lg v" style="left:318.06px;top:7px;transform:scaleX(0.9708)">4519.64</span>
<span class="lg v" style="left:367.53px;top:7px;transform:scaleX(0.9389)">+33.17</span>
<span class="lg v" style="left:407.21px;top:7px;transform:scaleX(0.9200)">(+0.74%)</span>
<span class="lg" style="left:5.30px;top:24px;transform:scaleX(0.9000)">MA</span>
<span class="lg" style="left:25.22px;top:24px;transform:scaleX(1.0421)">(50,</span>
<span class="lg" style="left:49.79px;top:24px;transform:scaleX(1.0252)">close,</span>
<span class="lg" style="left:84.98px;top:24px;transform:scaleX(1.0316)">0)</span>
</body></html>
